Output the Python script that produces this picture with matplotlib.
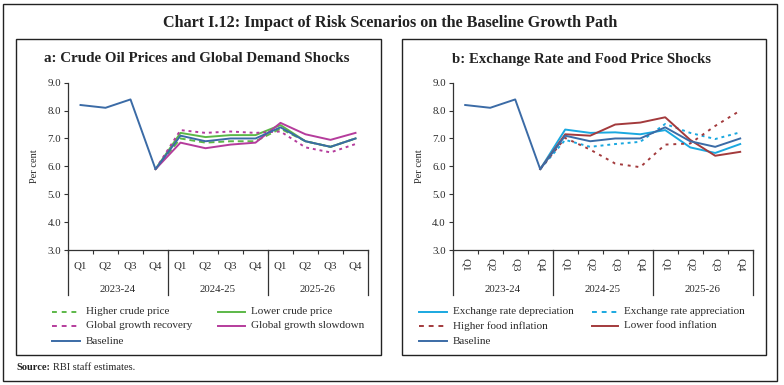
import numpy as np
import matplotlib
matplotlib.use("Agg")
import matplotlib.pyplot as plt
from matplotlib.patches import Rectangle
import matplotlib.transforms as mtransforms

plt.rcParams['font.family'] = ['Liberation Serif', 'DejaVu Serif']

quarters = ["Q1", "Q2", "Q3", "Q4"] * 3
years = ["2023-24", "2024-25", "2025-26"]
nan = np.nan

baseline = [8.2, 8.1, 8.4, 5.9, 7.1, 6.9, 7.0, 7.0, 7.4, 6.9, 6.7, 7.0]
higher_crude = [nan, nan, nan, 5.9, 7.0, 6.85, 6.9, 6.9, 7.35, 6.9, 6.7, 7.0]
lower_crude = [nan, nan, nan, 5.9, 7.2, 7.05, 7.12, 7.12, 7.48, 6.9, 6.7, 7.0]
growth_recovery = [nan, nan, nan, 5.9, 7.3, 7.2, 7.25, 7.2, 7.25, 6.68, 6.5, 6.8]
growth_slowdown = [nan, nan, nan, 5.9, 6.85, 6.65, 6.78, 6.85, 7.56, 7.15, 6.95, 7.2]

er_depreciation = [nan, nan, nan, 5.9, 7.32, 7.2, 7.22, 7.15, 7.3, 6.68, 6.48, 6.8]
er_appreciation = [nan, nan, nan, 5.9, 6.95, 6.7, 6.8, 6.88, 7.52, 7.2, 6.98, 7.22]
higher_food = [nan, nan, nan, 5.9, 7.02, 6.6, 6.1, 5.97, 6.78, 6.82, 7.45, 8.0]
lower_food = [nan, nan, nan, 5.9, 7.15, 7.1, 7.5, 7.57, 7.76, 6.95, 6.38, 6.52]

yticks = [3.0, 4.0, 5.0, 6.0, 7.0, 8.0, 9.0]

C_BASE = "#3B6BA6"
C_GREEN = "#5CB847"
C_MAG = "#B53C9C"
C_CYAN = "#1AA8E0"
C_RED = "#A33A3C"
C_TXT = "#2a2a2a"

W, H = 784, 385
fig = plt.figure(figsize=(W / 100, H / 100), dpi=100)
fig.patch.set_facecolor("white")

def px(x0, y0, x1, y1):
    return [x0 / W, 1 - y1 / H, (x1 - x0) / W, (y1 - y0) / H]

# frames
fig.patches.append(Rectangle((3 / W, 1 - 381 / H), 774 / W, 377 / H, transform=fig.transFigure,
                             fill=False, lw=1.0, ec="#222222"))
fig.patches.append(Rectangle((16 / W, 1 - 355 / H), 365 / W, 316 / H, transform=fig.transFigure,
                             fill=False, lw=1.0, ec="#222222"))
fig.patches.append(Rectangle((402 / W, 1 - 355 / H), 364 / W, 316 / H, transform=fig.transFigure,
                             fill=False, lw=1.0, ec="#222222"))

fig.text(390 / W, 1 - 23 / H, "Chart I.12: Impact of Risk Scenarios on the Baseline Growth Path",
         ha="center", va="center", fontsize=11.6, fontweight="bold", color="#222222")
fig.text(197 / W, 1 - 59 / H, "a: Crude Oil Prices and Global Demand Shocks",
         ha="center", va="center", fontsize=10.8, fontweight="bold", color="#222222")
fig.text(582 / W, 1 - 59 / H, "b: Exchange Rate and Food Price Shocks",
         ha="center", va="center", fontsize=10.6, fontweight="bold", color="#222222")
src = fig.text(16 / W, 1 - 367 / H, "Source:", ha="left", va="center", fontsize=7.5,
               fontweight="bold", color="#222222")
fig.canvas.draw()
bb = src.get_window_extent()
fig.text((bb.x1 + 3) / W, 1 - 367 / H, "RBI staff estimates.", ha="left", va="center",
         fontsize=7.5, color="#222222")


def setup_axes(ax, rotate):
    ax.set_xlim(-0.5, 11.5)
    ax.set_ylim(3.0, 9.0)
    ax.set_yticks(yticks)
    ax.set_yticklabels([f"{v:.1f}" for v in yticks], fontsize=7.8, color=C_TXT)
    ax.tick_params(axis="y", length=3, width=0.8, color="#333333", pad=2)
    ax.set_xticks([])
    ax.set_xticks(np.arange(-0.5, 12, 1.0), minor=True)
    ax.tick_params(axis="x", which="minor", length=3, width=0.8, color="#333333")
    for s in ["top", "right"]:
        ax.spines[s].set_visible(False)
    for s in ["left", "bottom"]:
        ax.spines[s].set_color("#333333")
        ax.spines[s].set_linewidth(0.9)
    trans = mtransforms.blended_transform_factory(ax.transData, ax.transAxes)
    hpx = ax.get_position().height * H
    for b in [-0.5, 3.5, 7.5, 11.5]:
        ax.plot([b, b], [0, -45 / hpx], transform=trans, clip_on=False, color="#333333", lw=0.9)
    for i, q in enumerate(quarters):
        if rotate:
            ax.text(i, -15 / hpx, q, transform=trans, ha="center", va="center", rotation=270,
                    fontsize=7.8, color=C_TXT)
        else:
            ax.text(i, -16 / hpx, q, transform=trans, ha="center", va="center",
                    fontsize=7.8, color=C_TXT)
    for j, yname in enumerate(years):
        ax.text(4 * j + 1.5, -39 / hpx, yname, transform=trans, ha="center", va="center",
                fontsize=7.8, color=C_TXT)
    ax.set_ylabel("Per cent", fontsize=7.5, color=C_TXT, labelpad=6)


x = np.arange(12)

# Panel a
axa = fig.add_axes(px(68, 82.7, 368, 250))
setup_axes(axa, rotate=False)
la1, = axa.plot(x, higher_crude, color=C_GREEN, lw=1.4, ls=(0, (3, 2)), label="Higher crude price")
la2, = axa.plot(x, lower_crude, color=C_GREEN, lw=1.4, label="Lower crude price")
la3, = axa.plot(x, growth_recovery, color=C_MAG, lw=1.4, ls=(0, (1.5, 2)), label="Global growth recovery")
la4, = axa.plot(x, growth_slowdown, color=C_MAG, lw=1.4, label="Global growth slowdown")
la5, = axa.plot(x, baseline, color=C_BASE, lw=1.4, label="Baseline")

# Panel b
axb = fig.add_axes(px(452.7, 82.7, 752.7, 250))
setup_axes(axb, rotate=True)
lb1, = axb.plot(x, er_depreciation, color=C_CYAN, lw=1.4, label="Exchange rate depreciation")
lb2, = axb.plot(x, er_appreciation, color=C_CYAN, lw=1.4, ls=(0, (1.5, 2)), label="Exchange rate appreciation")
lb3, = axb.plot(x, higher_food, color=C_RED, lw=1.4, ls=(0, (1.5, 2.5)), label="Higher food inflation")
lb4, = axb.plot(x, lower_food, color=C_RED, lw=1.4, label="Lower food inflation")
lb5, = axb.plot(x, baseline, color=C_BASE, lw=1.4, label="Baseline")


def legend_row(lines, positions):
    for ln, (lx0, lx1, ly) in zip(lines, positions):
        fig.add_artist(plt.Line2D([lx0 / W, lx1 / W], [1 - ly / H, 1 - ly / H],
                                  transform=fig.transFigure, color=ln.get_color(),
                                  lw=1.4, ls=ln.get_linestyle() if ln.get_linestyle() == "-" else (0, (2.5, 2.5))))
        fig.text((lx1 + 6) / W, 1 - ly / H, ln.get_label(), ha="left", va="center",
                 fontsize=8, color=C_TXT)


rows = [312, 326, 341]
legend_row([la1, la2, la3, la4, la5],
           [(52, 80, rows[0]), (218, 245, rows[0]), (52, 80, rows[1]), (218, 245, rows[1]),
            (52, 80, rows[2])])
legend_row([lb1, lb2, lb3, lb4, lb5],
           [(419, 447, rows[0]), (592, 618, rows[0]), (419, 447, rows[1]), (592, 618, rows[1]),
            (419, 447, rows[2])])

fig.savefig("out.png", dpi=100)
